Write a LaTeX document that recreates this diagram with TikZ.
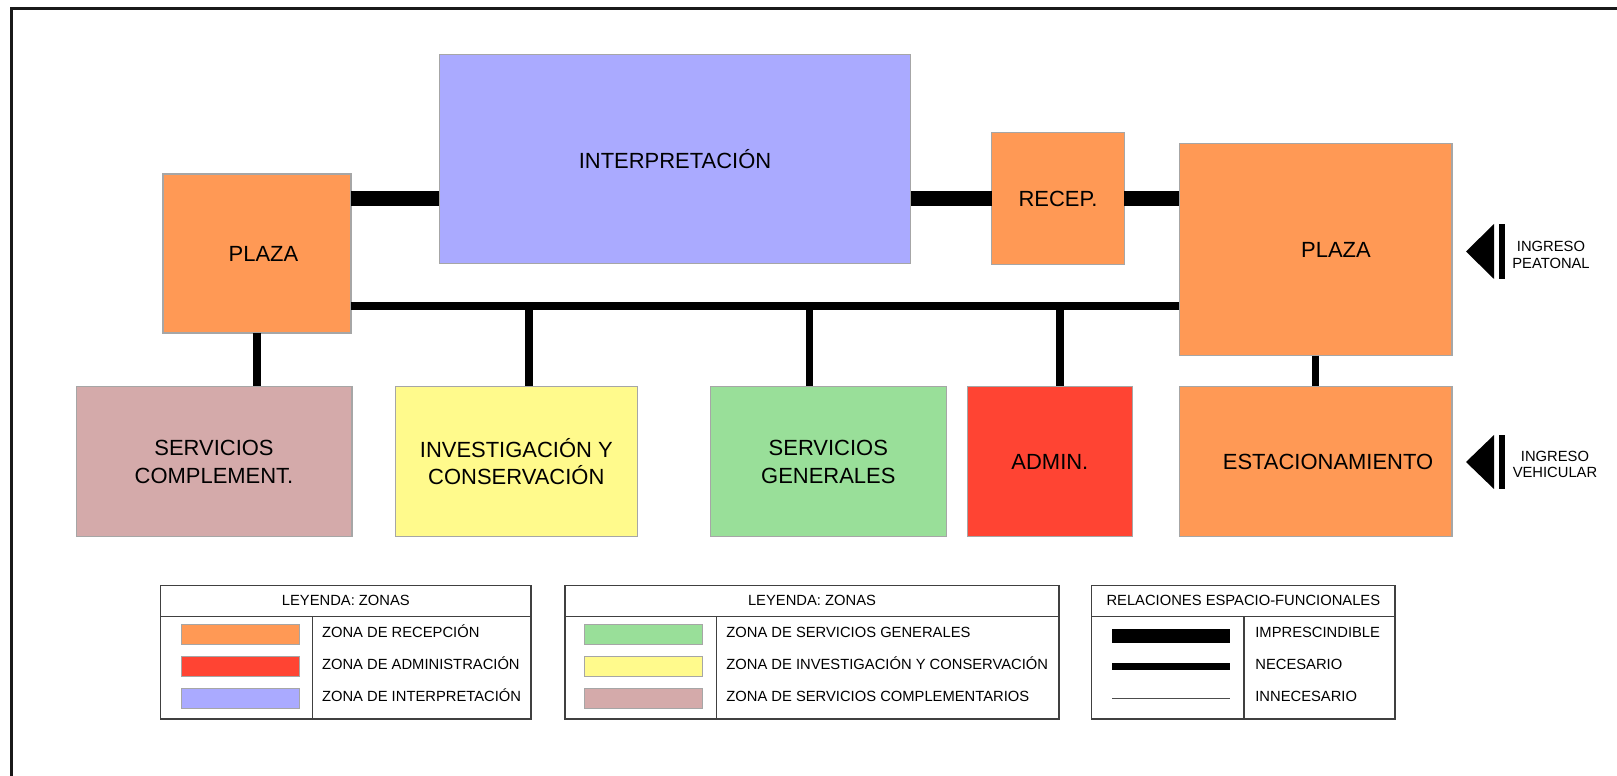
\documentclass[tikz,border=0pt]{standalone}
\usepackage{fontspec}
\setmainfont{Liberation Sans}
\usepackage{xcolor}
\usetikzlibrary{positioning}
\definecolor{recepcion}{HTML}{FF9955}
\definecolor{administ}{HTML}{FF4433}
\definecolor{interpret}{HTML}{AAAAFF}
\definecolor{generales}{HTML}{99DF99}
\definecolor{investig}{HTML}{FFFA8C}
\definecolor{complem}{HTML}{D4AAAA}

\begin{document}
\begin{tikzpicture}[x=0.02cm, y=-0.02cm,
    zona/.style={rectangle, draw=gray!70, line width=0.6pt, inner sep=0pt, outer sep=0pt, align=center, font=\fontsize{12.5}{15.8}\selectfont},
    imp/.style={line width=8pt},
    nec/.style={line width=4.2pt},
    innec/.style={line width=0.6pt, black!70},
    swatch/.style={rectangle, draw=gray!70, line width=0.5pt, minimum width=2.36cm, minimum height=0.4cm, inner sep=0pt},
    legbox/.style={rectangle, draw=black!75, line width=0.7pt, minimum height=2.666cm, inner sep=0pt, outer sep=0pt},
    ley/.style={font=\fontsize{8.4}{10}\selectfont, anchor=west, inner sep=0pt, text height=6pt, text depth=0pt},
    head/.style={font=\fontsize{8.4}{10}\selectfont, inner sep=0pt, text height=6pt, text depth=0pt},
    ingreso/.style={font=\fontsize{8.4}{9.5}\selectfont, align=center}
]
\useasboundingbox (0,0) rectangle (1617,776);
% Frame
\draw[line width=1.5pt, black!90] (11.5,776) -- (11.5,8.5) -- (1617,8.5);

% Upper zones
\node[zona, fill=recepcion, minimum width=3.76cm, minimum height=3.18cm] (plazaL) at (257,253.5) {\hspace*{0.26cm}PLAZA};
\node[zona, fill=interpret, minimum width=9.44cm, minimum height=4.18cm] (interp) at (675,159.2) {INTERPRETACIÓN};
\node[zona, fill=recepcion, minimum width=2.646cm, minimum height=2.64cm] (recep) at (1058,198.5) {RECEP.};
\node[zona, fill=recepcion, minimum width=5.46cm, minimum height=4.248cm] (plazaR) at (1315.5,249.5) {\hspace*{0.82cm}PLAZA};

% Lower zones
\node[zona, fill=complem, minimum width=5.52cm, minimum height=3.01cm] (compl) at (214,461.7) {SERVICIOS\\COMPLEMENT.};
\node[zona, fill=investig, minimum width=4.83cm, minimum height=3.01cm] (invest) at (516.3,461.7) {INVESTIGACIÓN Y\\CONSERVACIÓN};
\node[zona, fill=generales, minimum width=4.71cm, minimum height=3.01cm] (sgen) at (828.3,461.7) {SERVICIOS\\GENERALES};
\node[zona, fill=administ, minimum width=3.29cm, minimum height=3.01cm] (admin) at (1049.9,461.7) {ADMIN.};
\node[zona, fill=recepcion, minimum width=5.46cm, minimum height=3.01cm] (estac) at (1315.5,461.7) {\hspace*{0.5cm}ESTACIONAMIENTO};

% Relations
\coordinate (bus) at (0,306);
\coordinate (b1) at (529,306);
\coordinate (b2) at (809.6,306);
\coordinate (b3) at (1060,306);
\draw[imp] (plazaL.east |- recep) -- (interp.west |- recep);
\draw[imp] (interp.east |- recep) -- (recep.west);
\draw[imp] (recep.east) -- (plazaR.west |- recep);
\draw[nec] (plazaL.east |- bus) -- (plazaR.west |- bus);
\draw[nec] (plazaL.south) -- (plazaL.south |- compl.north);
\draw[nec] (b1) -- (b1 |- invest.north);
\draw[nec] (b2) -- (b2 |- sgen.north);
\draw[nec] (b3) -- (b3 |- admin.north);
\draw[nec] (plazaR.south) -- (estac.north);

% Entrances
\fill (1466,251.5) -- (1494,224) -- (1494,279) -- cycle;
\fill (1499,224) rectangle (1505,279);
\node[ingreso] (ingP) at (1551,255) {INGRESO\\PEATONAL};
\fill (1466,462) -- (1494,435) -- (1494,489) -- cycle;
\fill (1499,435) rectangle (1505,489);
\node[ingreso] (ingV) at (1555,464.5) {INGRESO\\VEHICULAR};

% Legend 1
\coordinate (hdr) at (0,616.7);
\node[legbox, minimum width=7.406cm] (leg1) at (345.85,652.35) {};
\node[head] (h1) at (345.85,600) {LEYENDA: ZONAS};
\coordinate (d1) at (312.7,616.7);
\draw[black!75, line width=0.7pt] (leg1.west |- hdr) -- (leg1.east |- hdr);
\draw[black!75, line width=0.7pt] (d1) -- (d1 |- leg1.south);
\node[swatch, fill=recepcion] (s1a) at (240,634.5) {};
\node[swatch, fill=administ] (s1b) at (240,666) {};
\node[swatch, fill=interpret] (s1c) at (240,698) {};
\node[ley] (t1a) at (321.7,632.5) {ZONA DE RECEPCIÓN};
\node[ley] (t1b) at (321.7,664) {ZONA DE ADMINISTRACIÓN};
\node[ley] (t1c) at (321.7,696) {ZONA DE INTERPRETACIÓN};

% Legend 2
\node[legbox, minimum width=9.88cm] (leg2) at (812,652.35) {};
\node[head] (h2) at (812,600) {LEYENDA: ZONAS};
\coordinate (d2) at (716.8,616.7);
\draw[black!75, line width=0.7pt] (leg2.west |- hdr) -- (leg2.east |- hdr);
\draw[black!75, line width=0.7pt] (d2) -- (d2 |- leg2.south);
\node[swatch, fill=generales] (s2a) at (643,634.5) {};
\node[swatch, fill=investig] (s2b) at (643,666) {};
\node[swatch, fill=complem] (s2c) at (643,698) {};
\node[ley] (t2a) at (726,632.5) {ZONA DE SERVICIOS GENERALES};
\node[ley] (t2b) at (726,664) {ZONA DE INVESTIGACIÓN Y CONSERVACIÓN};
\node[ley] (t2c) at (726,696) {ZONA DE SERVICIOS COMPLEMENTARIOS};

% Legend 3
\node[legbox, minimum width=6.066cm] (leg3) at (1243.35,652.35) {};
\node[head] (h3) at (1243.35,600) {RELACIONES ESPACIO-FUNCIONALES};
\coordinate (d3) at (1244,616.7);
\draw[black!75, line width=0.7pt] (leg3.west |- hdr) -- (leg3.east |- hdr);
\draw[black!75, line width=0.7pt] (d3) -- (d3 |- leg3.south);
\draw[imp] (1112.3,635.8) -- (1230,635.8);
\draw[nec] (1112.3,666.3) -- (1230,666.3);
\draw[innec] (1112.3,698.3) -- (1230,698.3);
\node[ley] (t3a) at (1255,632.5) {IMPRESCINDIBLE};
\node[ley] (t3b) at (1255,664) {NECESARIO};
\node[ley] (t3c) at (1255,696) {INNECESARIO};
\end{tikzpicture}
\end{document}
